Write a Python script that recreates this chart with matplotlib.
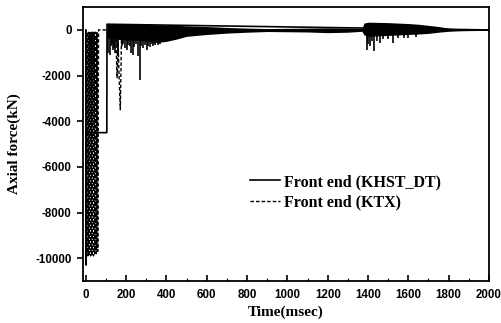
import matplotlib
matplotlib.use("Agg")
import matplotlib.pyplot as plt
from matplotlib.ticker import MultipleLocator

plt.rcParams['axes.unicode_minus'] = False

# ---- data ----
ktx_time = [0, 3, 7, 10, 14, 17, 21, 24, 28, 31, 35, 38, 42, 45, 49, 52, 56, 59, 63,
            148, 155, 160, 165, 171, 177, 185, 2000]
ktx_force = [0, -9900, -100, -9900, -100, -9900, -100, -9900, -100, -9900, -100, -9900,
             -100, -9800, -100, -9800, -100, -9700, 0,
             0, -2100, -600, -2050, -3500, -200, 0, 0]

khst_time = [0, 0.5, 1.5, 104, 105, 2000]
khst_force = [0, -10300, -4500, -4500, 250, 0]

band_time = [105, 150, 200, 250, 300, 350, 400, 450, 500, 600, 700, 800, 900, 1000,
             1100, 1200, 1300, 1370, 1380, 1400, 1450, 1500, 1550, 1600, 1650, 1700,
             1750, 1800, 1850, 1900, 2000]
band_upper = [260, 270, 260, 250, 240, 230, 220, 200, 180, 150, 110, 80, 60, 70,
              80, 90, 80, 60, 300, 340, 330, 320, 300, 280, 250, 200, 150, 80, 50,
              40, 30]
band_lower = [-350, -400, -450, -450, -500, -550, -500, -400, -280, -200, -140, -100,
              -70, -80, -90, -120, -100, -60, -220, -280, -260, -240, -220, -200,
              -180, -150, -100, -60, -40, -30, -20]

spike_time = [112, 119, 124, 129, 136, 141, 147, 153, 159, 179, 186, 193, 203, 210,
              218, 226, 233, 241, 248, 258, 268, 276, 283, 293, 303, 310, 318, 326,
              333, 345, 357, 367, 377, 390, 1395, 1402, 1410, 1420, 1430, 1445, 1460,
              1475, 1500, 1523, 1550, 1580, 1600, 1640]
spike_force = [-1000, -1100, -700, -600, -900, -800, -1000, -700, -1100, -700, -600,
               -800, -900, -650, -700, -1000, -1100, -750, -600, -1150, -2200, -700,
               -800, -650, -900, -700, -750, -600, -700, -650, -650, -600, -550, -500,
               -880, -600, -700, -500, -920, -500, -570, -400, -400, -570, -350,
               -350, -350, -300]

xticks = [0, 200, 400, 600, 800, 1000, 1200, 1400, 1600, 1800, 2000]
yticks = [0, -2000, -4000, -6000, -8000, -10000]

fig = plt.figure(figsize=(5.02, 3.23), dpi=100)
ax = fig.add_axes([0.165, 0.130, 0.809, 0.848])

ax.fill_between(band_time, band_lower, band_upper, color='black', lw=0)
ax.vlines(spike_time, 0, spike_force, color='black', lw=1.2)
ax.plot(khst_time, khst_force, color='black', lw=1.2, label='Front end (KHST_DT)')
ax.plot(ktx_time, ktx_force, color='black', lw=1.0, ls=(0, (2.5, 1.5)),
        label='Front end (KTX)')

ax.set_xlim(-15, 2000)
ax.set_ylim(-11000, 1000)
ax.set_xticks(xticks)
ax.set_yticks(yticks)
ax.xaxis.set_minor_locator(MultipleLocator(100))

tick_font = dict(family='Liberation Sans', weight='bold', size=8.3)
ax.set_xticklabels([str(v) for v in xticks], fontdict=tick_font)
ax.set_yticklabels([str(v) for v in yticks], fontdict=tick_font)
ax.tick_params(axis='x', which='major', direction='in', length=4, width=1.2, pad=6)
ax.tick_params(axis='x', which='minor', direction='in', length=2, width=0.8)
ax.tick_params(axis='y', which='major', direction='out', length=4, width=1.2, pad=4)

for s in ax.spines.values():
    s.set_linewidth(1.3)

label_font = dict(family='Liberation Serif', weight='bold', size=11)
ax.set_xlabel('Time(msec)', fontdict=label_font, labelpad=3)
ax.set_ylabel('Axial force(kN)', fontdict=label_font, labelpad=10)

leg = ax.legend(loc='upper left', bbox_to_anchor=(250 / 502, 1 - 174 / 323),
                bbox_transform=fig.transFigure, frameon=False,
                prop=dict(family='Liberation Serif', weight='bold', size=11.5),
                handlelength=1.9, handletextpad=0.25, labelspacing=0.3,
                borderpad=0, borderaxespad=0)

fig.savefig('out.png', dpi=100)
